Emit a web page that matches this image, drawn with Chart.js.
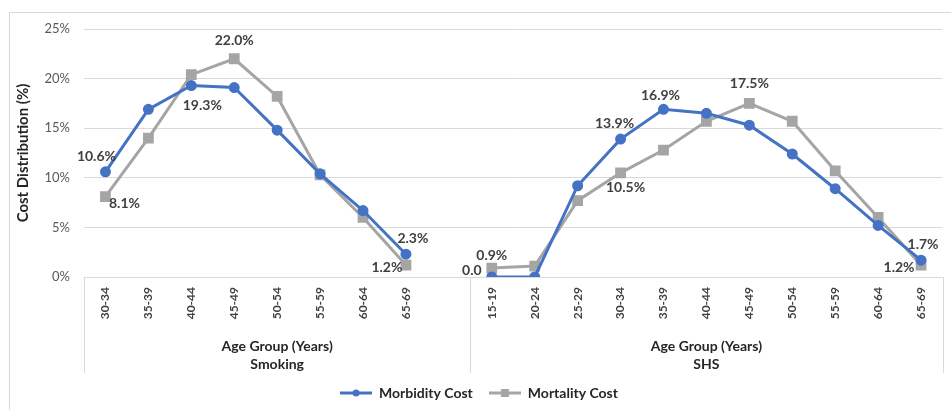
<!DOCTYPE html>
<html>
<head>
<meta charset="utf-8">
<script src="https://cdn.jsdelivr.net/npm/chart.js@4.4.0/dist/chart.umd.min.js"></script>
<style>
  html, body { margin: 0; padding: 0; background: #fff; }
  #wrap { width: 951px; height: 410px; }
</style>
</head>
<body>
<div id="wrap"><canvas id="costChart" width="951" height="410"></canvas></div>
<script>
  // age groups for each panel
  var smokingAges = ['30-34', '35-39', '40-44', '45-49', '50-54', '55-59', '60-64', '65-69'];
  var shsAges = ['15-19', '20-24', '25-29', '30-34', '35-39', '40-44', '45-49', '50-54', '55-59', '60-64', '65-69'];

  // cost distribution (%)
  var smokingMorbidity = [10.6, 16.9, 19.3, 19.1, 14.8, 10.4, 6.7, 2.3];
  var smokingMortality = [8.1, 14.0, 20.4, 22.0, 18.2, 10.3, 6.0, 1.2];
  var shsMorbidity = [0.0, 0.0, 9.2, 13.9, 16.9, 16.5, 15.3, 12.4, 8.9, 5.2, 1.7];
  var shsMortality = [0.9, 1.1, 7.7, 10.5, 12.8, 15.7, 17.5, 15.7, 10.7, 6.0, 1.2];

  var groupNames = ['Smoking', 'SHS'];
  var groupTitle = 'Age Group (Years)';

  var FONT = 'Lato, "Liberation Sans", sans-serif';
  var BLUE = '#4472C4';
  var GREY = '#A5A5A5';

  // one blank slot between the two panels so the lines break there
  var labels = smokingAges.concat([''], shsAges);
  var shsStart = smokingAges.length + 1;
  var morbidity = smokingMorbidity.concat([null], shsMorbidity);
  var mortality = smokingMortality.concat([null], shsMortality);

  // which points get a value label, and where it sits next to the point
  var shownLabels = [
    { ds: 0, i: 0, dx: -9, dy: -15 },
    { ds: 1, i: 0, dx: 19, dy: 7 },
    { ds: 0, i: 2, dx: 11, dy: 20 },
    { ds: 1, i: 3, dx: 0, dy: -18 },
    { ds: 0, i: 7, dx: 7, dy: -16 },
    { ds: 1, i: 7, dx: -19, dy: 2 },
    { ds: 0, i: shsStart + 0, dx: -20, dy: -7, plain: true },
    { ds: 1, i: shsStart + 0, dx: 0, dy: -13 },
    { ds: 0, i: shsStart + 3, dx: -6, dy: -16 },
    { ds: 1, i: shsStart + 3, dx: 5, dy: 15 },
    { ds: 0, i: shsStart + 4, dx: -3, dy: -14 },
    { ds: 1, i: shsStart + 6, dx: 0, dy: -20 },
    { ds: 0, i: shsStart + 10, dx: 2, dy: -16 },
    { ds: 1, i: shsStart + 10, dx: -22, dy: 2 }
  ];

  // legend marker: short line with the point in the middle
  function legendMarker(color, square) {
    var c = document.createElement('canvas');
    c.width = 32; c.height = 10;
    var g = c.getContext('2d');
    g.strokeStyle = color;
    g.lineWidth = 3;
    g.beginPath(); g.moveTo(0, 5); g.lineTo(32, 5); g.stroke();
    g.fillStyle = color;
    if (square) {
      g.fillRect(12, 1, 8, 8);
    } else {
      g.beginPath(); g.arc(16, 5, 3.5, 0, Math.PI * 2); g.fill();
    }
    return c;
  }

  var decorPlugin = {
    id: 'decor',
    beforeDraw: function (chart) {
      var ctx = chart.ctx;
      ctx.save();
      ctx.fillStyle = '#fff';
      ctx.fillRect(0, 0, chart.width, chart.height);
      ctx.strokeStyle = '#D9D9D9';
      ctx.lineWidth = 1;
      ctx.strokeRect(9.5, 12.5, chart.width + 10, chart.height + 10);
      ctx.restore();
    },
    afterDraw: function (chart) {
      var ctx = chart.ctx;
      var x = chart.scales.x;
      var area = chart.chartArea;
      var mid = (x.getPixelForValue(shsStart - 1) + x.getPixelForValue(shsStart)) / 2;
      var bottom = area.bottom + 96;
      ctx.save();
      // group separators
      ctx.strokeStyle = '#D9D9D9';
      ctx.lineWidth = 1;
      [area.left, mid, area.right].forEach(function (px) {
        px = Math.round(px) + 0.5;
        ctx.beginPath(); ctx.moveTo(px, area.bottom); ctx.lineTo(px, bottom); ctx.stroke();
      });
      // group titles
      ctx.fillStyle = '#262626';
      ctx.font = 'bold 14px ' + FONT;
      ctx.textAlign = 'center';
      ctx.textBaseline = 'middle';
      var centers = [(area.left + mid) / 2, (mid + area.right) / 2];
      centers.forEach(function (cx, k) {
        ctx.fillText(groupTitle, cx, area.bottom + 69);
        ctx.fillText(groupNames[k], cx, area.bottom + 87);
      });
      // value labels
      ctx.fillStyle = '#404040';
      ctx.font = 'bold 14px ' + FONT;
      shownLabels.forEach(function (l) {
        var pt = chart.getDatasetMeta(l.ds).data[l.i];
        var v = chart.data.datasets[l.ds].data[l.i];
        var txt = v.toFixed(1) + (l.plain ? '' : '%');
        ctx.fillText(txt, pt.x + l.dx, pt.y + l.dy);
      });
      ctx.restore();
    }
  };

  var ctx = document.getElementById('costChart').getContext('2d');
  new Chart(ctx, {
    type: 'line',
    data: {
      labels: labels,
      datasets: [
        {
          label: 'Morbidity Cost',
          data: morbidity,
          borderColor: BLUE,
          backgroundColor: BLUE,
          borderWidth: 3,
          pointStyle: 'circle',
          pointRadius: 4,
          pointHoverRadius: 4,
          spanGaps: false,
          fill: false
        },
        {
          label: 'Mortality Cost',
          data: mortality,
          borderColor: GREY,
          backgroundColor: GREY,
          borderWidth: 3,
          pointStyle: 'rect',
          pointRadius: 5.5,
          pointHoverRadius: 5.5,
          spanGaps: false,
          fill: false
        }
      ]
    },
    options: {
      responsive: false,
      animation: false,
      events: [],
      layout: { padding: { left: 10, top: 29, right: 3, bottom: 0 } },
      plugins: {
        tooltip: { enabled: false },
        legend: {
          position: 'bottom',
          labels: {
            usePointStyle: true,
            pointStyleWidth: 32,
            padding: 16,
            color: '#262626',
            font: { family: FONT, size: 14, weight: 'bold' },
            generateLabels: function (chart) {
              return chart.data.datasets.map(function (d, i) {
                return {
                  text: d.label,
                  fillStyle: d.borderColor,
                  strokeStyle: d.borderColor,
                  lineWidth: 0,
                  pointStyle: legendMarker(d.borderColor, i === 1),
                  datasetIndex: i,
                  fontColor: '#262626'
                };
              });
            }
          }
        }
      },
      scales: {
        x: {
          type: 'category',
          offset: true,
          grid: { display: false, drawTicks: false },
          border: { display: false },
          ticks: {
            autoSkip: false,
            minRotation: 90,
            maxRotation: 90,
            padding: 10,
            color: '#404040',
            font: { family: FONT, size: 12, weight: 'bold' }
          },
          afterFit: function (scale) { scale.height = 93; }
        },
        y: {
          min: 0,
          max: 25,
          grid: { color: '#D9D9D9', drawTicks: false },
          border: { display: false },
          ticks: {
            stepSize: 5,
            padding: 14,
            color: '#595959',
            font: { family: FONT, size: 13 },
            callback: function (v) { return v + '%'; }
          },
          title: {
            display: true,
            text: 'Cost Distribution (%)',
            color: '#262626',
            padding: { top: 4, bottom: 0 },
            font: { family: FONT, size: 15, weight: 'bold' }
          },
          afterFit: function (scale) { scale.width = 74; }
        }
      }
    },
    plugins: [decorPlugin]
  });
</script>
</body>
</html>
